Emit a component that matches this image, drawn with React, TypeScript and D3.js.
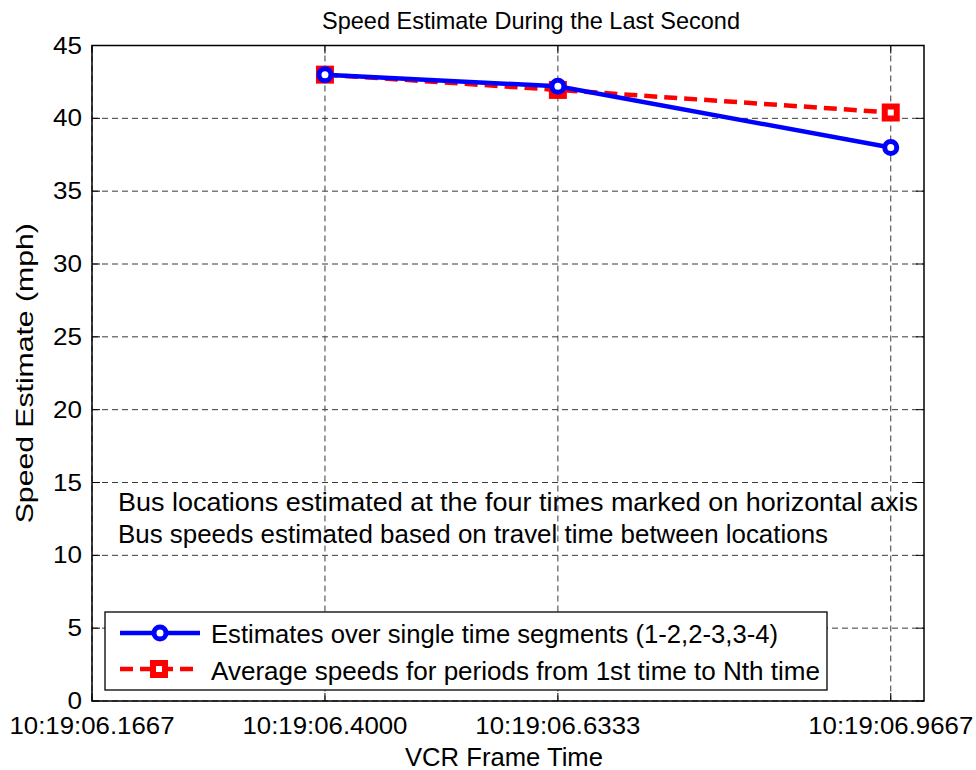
import React from "react";
import * as d3 from "d3";

const xTicks = [1 / 6, 0.4, 0.6333, 0.9667];
const xTickLabels = ["10:19:06.1667", "10:19:06.4000", "10:19:06.6333", "10:19:06.9667"];
const xData = [0.4, 0.6333, 0.9667];
const singleSeg = [43.0, 42.2, 38.0];
const avgSpeeds = [43.0, 41.95, 40.4];
const yTicks = [0, 5, 10, 15, 20, 25, 30, 35, 40, 45];
const legendLabels = [
  "Estimates over single time segments (1-2,2-3,3-4)",
  "Average speeds for periods from 1st time to Nth time",
];
const notes = [
  "Bus locations estimated at the four times marked on horizontal axis",
  "Bus speeds estimated based on travel time between locations",
];

const W = 976, H = 770;
const L = 92, R = 924, T = 45.5, B = 701;
const FONT = "'Liberation Sans', Arial, Helvetica, sans-serif";

export default function App() {
  const x = d3.scaleLinear().domain([1 / 6, 1.0]).range([L, R]);
  const y = d3.scaleLinear().domain([0, 45]).range([B, T]);
  const line = d3.line<number>().x((_, i) => x(xData[i])).y((d) => y(d));
  const gridDash = "6,4";
  const noteLens = [800, 710];
  const legLens = [567, 609];
  return (
    <div style={{ position: "absolute", left: 0, top: 0 }}>
      <svg width={W} height={H} style={{ display: "block", background: "#fff" }}>
        <rect x={0} y={0} width={W} height={H} fill="#fff" />
        {/* grid */}
        {yTicks.map((t) => (
          <line key={"gy" + t} x1={L} x2={R} y1={y(t)} y2={y(t)} stroke="#3a3a3a" strokeWidth={1} strokeDasharray={gridDash} />
        ))}
        {xTicks.map((t, i) => (
          <line key={"gx" + i} x1={x(t)} x2={x(t)} y1={T} y2={B} stroke="#3a3a3a" strokeWidth={1} strokeDasharray={gridDash} />
        ))}
        {/* ticks */}
        {yTicks.map((t) => (
          <g key={"ty" + t}>
            <line x1={L} x2={L + 8} y1={y(t)} y2={y(t)} stroke="#000" />
            <line x1={R} x2={R - 8} y1={y(t)} y2={y(t)} stroke="#000" />
            <text x={82} y={y(t) + 8} textAnchor="end" fontFamily={FONT} fontSize={23}
              textLength={String(t).length * 14.5} lengthAdjust="spacingAndGlyphs">{t}</text>
          </g>
        ))}
        {xTicks.map((t, i) => (
          <g key={"tx" + i}>
            <line x1={x(t)} x2={x(t)} y1={B} y2={B - 8} stroke="#000" />
            <line x1={x(t)} x2={x(t)} y1={T} y2={T + 8} stroke="#000" />
            <text x={x(t) - 82.5} y={734} fontFamily={FONT} fontSize={24.5}
              textLength={165} lengthAdjust="spacingAndGlyphs">{xTickLabels[i]}</text>
          </g>
        ))}
        {/* frame */}
        <rect x={L} y={T} width={R - L} height={B - T} fill="none" stroke="#000" strokeWidth={1.5} />
        {/* series */}
        <path d={line(avgSpeeds) || ""} fill="none" stroke="#ff0000" strokeWidth={4.5} strokeDasharray="13,7" />
        {avgSpeeds.map((v, i) => (
          <rect key={"sq" + i} x={x(xData[i]) - 6} y={y(v) - 6} width={12} height={12} fill="#fff" stroke="#ff0000" strokeWidth={6} />
        ))}
        <path d={line(singleSeg) || ""} fill="none" stroke="#0000ff" strokeWidth={4.5} />
        {singleSeg.map((v, i) => (
          <circle key={"c" + i} cx={x(xData[i])} cy={y(v)} r={6} fill="#fff" stroke="#0000ff" strokeWidth={5} />
        ))}
        {/* notes */}
        {notes.map((n, i) => (
          <text key={"n" + i} x={118} y={511 + i * 32} fontFamily={FONT} fontSize={25}
            textLength={noteLens[i]} lengthAdjust="spacingAndGlyphs">{n}</text>
        ))}
        {/* legend */}
        <rect x={105} y={612} width={722} height={78} fill="#fff" stroke="#000" strokeWidth={1.3} />
        <line x1={120} x2={200} y1={633} y2={633} stroke="#0000ff" strokeWidth={4.5} />
        <circle cx={160} cy={633} r={6} fill="#fff" stroke="#0000ff" strokeWidth={5} />
        <line x1={120} x2={200} y1={669} y2={669} stroke="#ff0000" strokeWidth={4.5} strokeDasharray="13,7" />
        <rect x={153} y={663} width={12} height={12} fill="#fff" stroke="#ff0000" strokeWidth={6} />
        {legendLabels.map((l, i) => (
          <text key={"l" + i} x={211} y={643 + i * 37} fontFamily={FONT} fontSize={25}
            textLength={legLens[i]} lengthAdjust="spacingAndGlyphs">{l}</text>
        ))}
        {/* titles */}
        <text x={322} y={29} fontFamily={FONT} fontSize={24} textLength={418} lengthAdjust="spacingAndGlyphs">Speed Estimate During the Last Second</text>
        <text x={405} y={766} fontFamily={FONT} fontSize={25} textLength={198} lengthAdjust="spacingAndGlyphs">VCR Frame Time</text>
        <text transform={`translate(33, ${(T + B) / 2}) rotate(-90)`} x={-150} y={0} fontFamily={FONT} fontSize={24}
          textLength={300} lengthAdjust="spacingAndGlyphs">Speed Estimate (mph)</text>
      </svg>
    </div>
  );
}
